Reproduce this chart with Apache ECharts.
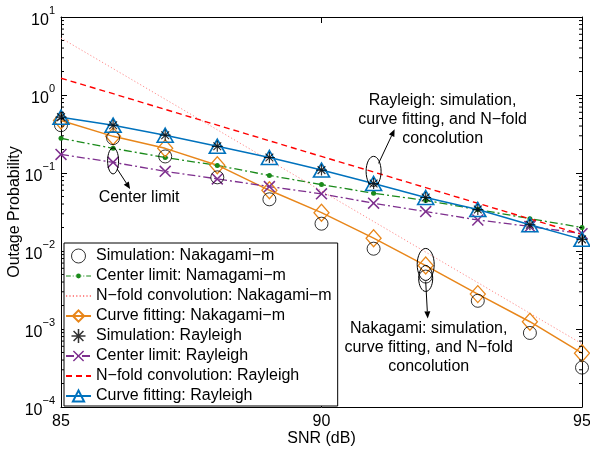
<!DOCTYPE html>
<html>
<head>
<meta charset="utf-8">
<script src="https://cdn.jsdelivr.net/npm/echarts@6/dist/echarts.min.js"></script>
<style>html,body{margin:0;padding:0;background:#fff}#c{width:590px;height:451px}</style>
</head>
<body>
<div id="c"></div>
<script>
// ---- data ----
var snr = [85, 86, 87, 88, 89, 90, 91, 92, 93, 94, 95];
var simNak   = [0.41, 0.28, 0.163, 0.088, 0.046, 0.0224, 0.0107, 0.0047, 0.0023, 0.00089, 0.00032];
var cltNak   = [0.279, 0.207, 0.158, 0.125, 0.093, 0.071, 0.055, 0.0445, 0.034, 0.026, 0.020];
var nfoldNak = [5.37, 2.18, 0.883, 0.358, 0.145, 0.0589, 0.0239, 0.00968, 0.00393, 0.00159, 0.000646];
var fitNak   = [0.47, 0.295, 0.207, 0.126, 0.06, 0.031, 0.0146, 0.0065, 0.0028, 0.00124, 0.00049];
var simRay   = [0.52, 0.41, 0.305, 0.22, 0.158, 0.109, 0.0733, 0.0485, 0.034, 0.0217, 0.0141];
var cltRay   = [0.173, 0.137, 0.105, 0.084, 0.067, 0.054, 0.041, 0.032, 0.025, 0.0206, 0.0167];
var nfoldRay = [1.64, 1.04, 0.653, 0.411, 0.259, 0.163, 0.103, 0.0649, 0.0409, 0.0258, 0.0163];
var fitRay   = [0.52, 0.41, 0.305, 0.22, 0.158, 0.109, 0.0733, 0.0485, 0.034, 0.0217, 0.0141];
var names = ['Simulation: Nakagami\u2212m', 'Center limit: Namagami\u2212m', 'N\u2212fold convolution: Nakagami\u2212m',
  'Curve fitting: Nakagami\u2212m', 'Simulation: Rayleigh', 'Center limit: Rayleigh',
  'N\u2212fold convolution: Rayleigh', 'Curve fitting: Rayleigh'];
var minorY = [];
[-4, -3, -2, -1, 0].forEach(function (e) { for (var k = 2; k <= 9; k++) minorY.push(+(k * Math.pow(10, e)).toPrecision(3)); });

function pairs(v) { return snr.map(function (x, i) { return [x, v[i]]; }); }

var FONT = '"Liberation Sans", Arial, Helvetica, sans-serif';
var BLUE = '#0072BD', ORANGE = '#E8861A', GREEN = '#1A8A1A', PURPLE = '#7E2F8E', RED = '#FF0000', PINK = '#FF8A8A';

var asterisk = 'path://M0 4.45L10 4.45L10 5.55L0 5.55Z M4.45 0L5.55 0L5.55 10L4.45 10Z M1.08 1.86L1.86 1.08L8.92 8.14L8.14 8.92Z M8.14 1.08L8.92 1.86L1.86 8.92L1.08 8.14Z';
var xmark = 'path://M0 0.9L0.9 0L10 9.1L9.1 10Z M9.1 0L10 0.9L0.9 10L0 9.1Z';
// legend icon: dash-dot line with a small dot in the middle (26 x 5 box)
var greenIcon = 'path://M0 2L5 2L5 3L0 3Z M7 2L8 2L8 3L7 3Z M10 2L10.5 2L10.5 3L10 3Z ' +
  'M10.5 2.5A2.5 2.5 0 1 0 15.5 2.5A2.5 2.5 0 1 0 10.5 2.5Z ' +
  'M15.5 2L16 2L16 3L15.5 3Z M18 2L19 2L19 3L18 3Z M21 2L26 2L26 3L21 3Z';

var chart = echarts.init(document.getElementById('c'), null, { renderer: 'canvas' });

var axisCommonX = {
  type: 'value', min: 85, max: 95, interval: 5,
  axisLine: { show: true, onZero: false, lineStyle: { color: '#000', width: 1 } },
  axisTick: { show: true, inside: true, length: 6, lineStyle: { color: '#000' } },
  splitLine: { show: false }
};
var axisCommonY = {
  type: 'log', logBase: 10, min: 1e-4, max: 10,
  axisLine: { show: true, onZero: false, lineStyle: { color: '#000', width: 1 } },
  axisTick: { show: true, inside: true, length: 6, lineStyle: { color: '#000' } },
  splitLine: { show: false }
};

var hiddenSym = { color: 'rgba(0,0,0,0)', borderWidth: 0, opacity: 0 };

var option = {
  animation: false,
  backgroundColor: '#fff',
  textStyle: { fontFamily: FONT },
  grid: { left: 61, right: 8, top: 17, bottom: 44, containLabel: false, outerBoundsMode: 'none' },
  xAxis: [
    Object.assign({}, axisCommonX, {
      position: 'bottom', name: 'SNR (dB)', nameLocation: 'middle', nameGap: 24, nameMoveOverlap: false,
      nameTextStyle: { fontSize: 16, color: '#000', fontFamily: FONT },
      axisLabel: { fontSize: 16, color: '#000', margin: 7, fontFamily: FONT, showMinLabel: true, showMaxLabel: true }
    }),
    Object.assign({}, axisCommonX, { position: 'top', axisLabel: { show: false } })
  ],
  yAxis: [
    Object.assign({}, axisCommonY, {
      position: 'left', name: 'Outage Probability', nameLocation: 'middle', nameGap: 38, nameMoveOverlap: false,
      nameTextStyle: { fontSize: 16, color: '#000', fontFamily: FONT },
      axisLabel: {
        margin: 6, color: '#000', fontFamily: FONT, showMinLabel: true, showMaxLabel: true,
        formatter: function (v) {
          var e = Math.round(Math.log10(v));
          return '{b|10}{e|' + (e < 0 ? '\u2212' + (-e) : e) + '}';
        },
        rich: {
          b: { fontSize: 16, lineHeight: 24, verticalAlign: 'bottom', color: '#000', fontFamily: FONT },
          e: { fontSize: 11, lineHeight: 12, verticalAlign: 'top', color: '#000', fontFamily: FONT }
        }
      }
    }),
    Object.assign({}, axisCommonY, { position: 'right', axisLabel: { show: false } })
  ],
  legend: {
    orient: 'vertical', left: 64, top: 243,
    backgroundColor: '#fff', borderColor: '#000', borderWidth: 1, borderRadius: 0,
    padding: [5, 6, 2, 1], itemWidth: 25, itemHeight: 14, itemGap: 4,
    textStyle: { fontSize: 16, color: '#000', fontFamily: FONT, lineHeight: 16 },
    data: [
      { name: names[0], icon: 'circle', itemStyle: { color: 'rgba(0,0,0,0)', borderColor: '#000', borderWidth: 1, borderType: 'solid' } },
      { name: names[1], icon: greenIcon, itemStyle: { color: GREEN, borderWidth: 0 } },
      { name: names[2], itemStyle: hiddenSym },
      { name: names[3] },
      { name: names[4], icon: asterisk, itemStyle: { color: '#000', borderWidth: 0 } },
      { name: names[5] },
      { name: names[6], itemStyle: hiddenSym },
      { name: names[7] }
    ]
  },
  series: [
    { name: names[0], type: 'scatter', data: pairs(simNak), symbol: 'circle', symbolSize: 13,
      itemStyle: { color: 'rgba(0,0,0,0)', borderColor: '#000', borderWidth: 1 }, z: 3 },
    { name: names[1], type: 'line', data: pairs(cltNak), symbol: 'circle', symbolSize: 5, showAllSymbol: true,
      itemStyle: { color: GREEN }, lineStyle: { color: GREEN, width: 1.3, type: [8, 3, 2, 3] }, z: 2 },
    { name: names[2], type: 'line', data: pairs(nfoldNak), symbol: 'none',
      itemStyle: { color: PINK }, lineStyle: { color: PINK, width: 1, type: [1.2, 2.2] }, z: 2 },
    { name: names[3], type: 'line', data: pairs(fitNak), symbol: 'diamond', symbolSize: [15, 17], showAllSymbol: true,
      itemStyle: { color: 'rgba(0,0,0,0)', borderColor: ORANGE, borderWidth: 1.3 },
      lineStyle: { color: ORANGE, width: 1.5 }, z: 2 },
    { name: names[4], type: 'scatter', data: pairs(simRay), symbol: asterisk, symbolSize: 11,
      itemStyle: { color: '#000' }, z: 4 },
    { name: names[5], type: 'line', data: pairs(cltRay), symbol: xmark, symbolSize: 12, showAllSymbol: true,
      itemStyle: { color: PURPLE }, lineStyle: { color: PURPLE, width: 1.3, type: [8, 3, 2, 3] }, z: 2 },
    { name: names[6], type: 'line', data: pairs(nfoldRay), symbol: 'none',
      itemStyle: { color: RED }, lineStyle: { color: RED, width: 1.4, type: [6, 4] }, z: 2 },
    { name: names[7], type: 'line', data: pairs(fitRay), symbol: 'triangle', symbolSize: [16, 14], showAllSymbol: true,
      itemStyle: { color: 'rgba(0,0,0,0)', borderColor: BLUE, borderWidth: 1.6 },
      lineStyle: { color: BLUE, width: 1.5 }, z: 3 },
    { name: 'minorTicks', type: 'custom', silent: true, z: 5,
      data: minorY.map(function (v) { return [90, v]; }),
      renderItem: function (params, api) {
        var v = api.value(1);
        var l = api.coord([85, v]), r = api.coord([95, v]);
        return { type: 'group', children: [
          { type: 'line', shape: { x1: l[0], y1: l[1], x2: l[0] + 3, y2: l[1] }, style: { stroke: '#000', lineWidth: 1 } },
          { type: 'line', shape: { x1: r[0] - 3, y1: r[1], x2: r[0], y2: r[1] }, style: { stroke: '#000', lineWidth: 1 } }
        ] };
      }
    }
  ]
};
chart.setOption(option);

// ---- annotations (anchored at data locations) ----
function px(x, y) { return chart.convertToPixel({ xAxisIndex: 0, yAxisIndex: 0 }, [x, y]); }
function ellipse(c, rx, ry) {
  return { type: 'ellipse', shape: { cx: c[0], cy: c[1], rx: rx, ry: ry }, style: { fill: 'none', stroke: '#000', lineWidth: 1 }, z: 10 };
}
function arrow(x1, y1, x2, y2) {
  var ang = Math.atan2(y2 - y1, x2 - x1), L = 7, W = 3;
  var bx = x2 - L * Math.cos(ang), by = y2 - L * Math.sin(ang);
  var nx = -Math.sin(ang) * W, ny = Math.cos(ang) * W;
  return [
    { type: 'line', shape: { x1: x1, y1: y1, x2: bx, y2: by }, style: { stroke: '#000', lineWidth: 1 }, z: 10 },
    { type: 'polygon', shape: { points: [[x2, y2], [bx + nx, by + ny], [bx - nx, by - ny]] }, style: { fill: '#000' }, z: 10 }
  ];
}
function text(x, y, s) {
  return { type: 'text', x: x, y: y, z: 10, style: { text: s, font: '16px ' + FONT, fill: '#000', textAlign: 'center', textVerticalAlign: 'middle' } };
}
var a1 = px(86, 0.143), a2 = px(91, 0.105), a3 = px(92, 0.0058);
var g = [];
g.push(ellipse(a1, 5.5, 13));
g = g.concat(arrow(a1[0] + 4, a1[1] + 8, a1[0] + 17, a1[1] + 28));
g.push(text(a1[0] + 26, a1[1] + 37, 'Center limit'));
g.push(ellipse(a2, 7.5, 15));
g = g.concat(arrow(a2[0] + 5, a2[1] - 8, a2[0] + 21, a2[1] - 42));
g.push(text(a2[0] + 69, a2[1] - 71, 'Rayleigh: simulation,'));
g.push(text(a2[0] + 69, a2[1] - 52, 'curve fitting, and N\u2212fold'));
g.push(text(a2[0] + 69, a2[1] - 33, 'concolution'));
g.push(ellipse([a3[0], a3[1] - 5], 8.5, 16));
g.push(ellipse([a3[0], a3[1] + 9], 7, 13));
g = g.concat(arrow(a3[0], a3[1] + 12, a3[0] + 2, a3[1] + 49));
g.push(text(a3[0] + 3, a3[1] + 59, 'Nakagami: simulation,'));
g.push(text(a3[0] + 3, a3[1] + 78, 'curve fitting, and N\u2212fold'));
g.push(text(a3[0] + 3, a3[1] + 97, 'concolution'));
chart.setOption({ graphic: g });
</script>
</body>
</html>
